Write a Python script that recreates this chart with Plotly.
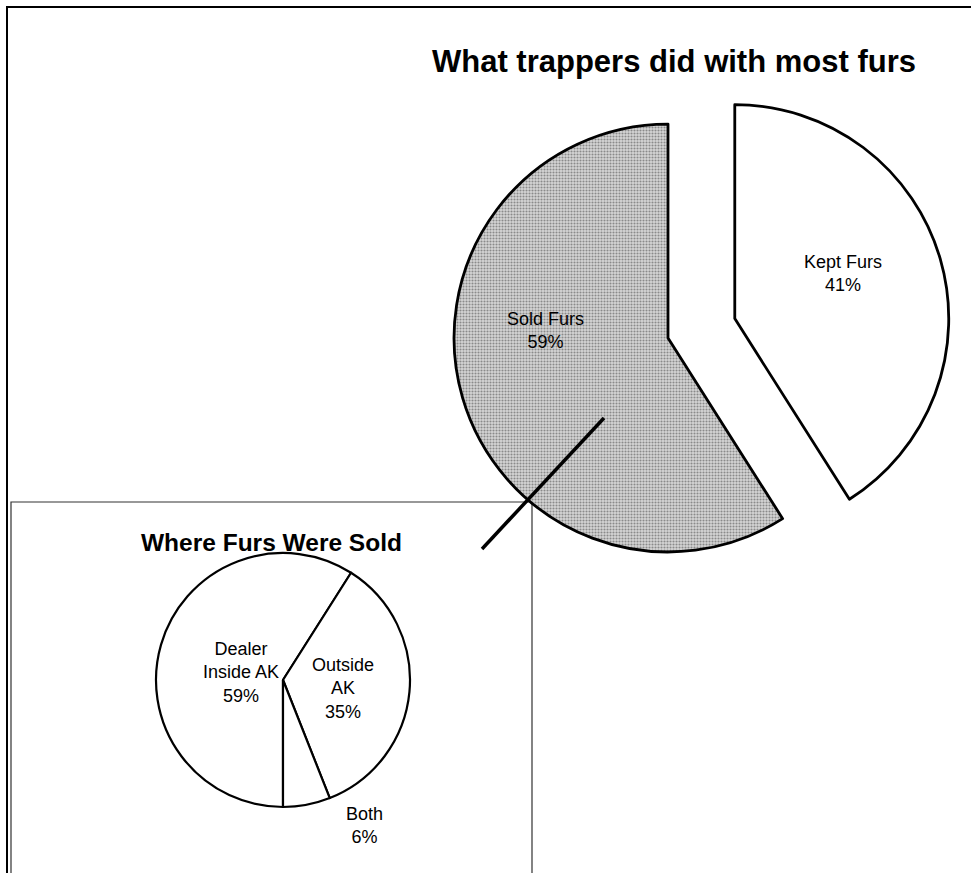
import plotly.graph_objects as go

W, H = 971, 873

# data
fur_labels = ['Kept Furs', 'Sold Furs']
fur_values = [41, 59]
fur_colors = ['white', '#c9c9c9']

sold_labels = ['Dealer<br>Inside AK', 'Outside<br>AK', 'Both']
sold_values = [59, 35, 6]

title_main = 'What trappers did with most furs'
title_inset = 'Where Furs Were Sold'

FONT = 'Liberation Sans, Arial, Helvetica, sans-serif'


def px(x):
    return x / W


def py(y):
    return 1 - y / H


fig = go.Figure()

fig.add_trace(go.Pie(
    labels=fur_labels,
    values=fur_values,
    sort=False,
    direction='clockwise',
    rotation=0,
    pull=[0.325, 0],
    textinfo='none',
    hoverinfo='label+percent',
    showlegend=False,
    marker=dict(
        colors=fur_colors,
        line=dict(color='black', width=2.8),
        pattern=dict(shape=['', '.'], size=3, solidity=0.4,
                     fgcolor='#8a8a8a', bgcolor='#d6d6d6', fillmode='replace'),
    ),
    domain=dict(x=[px(384.5), px(951.5)], y=[py(621.5), py(54.5)]),
))

fig.add_trace(go.Pie(
    labels=sold_labels,
    values=sold_values,
    sort=False,
    direction='clockwise',
    rotation=180,
    textinfo='none',
    hoverinfo='label+percent',
    showlegend=False,
    marker=dict(colors=['white'] * 3, line=dict(color='black', width=2.2)),
    domain=dict(x=[px(156), px(410)], y=[py(807), py(553)]),
))

# slice labels
big_pos = [(843, 273), (545, 330)]
small_pos = [(241, 672), (343, 688), (364, 825)]
annotations = []
for (lab, val), (x, y) in zip(zip(fur_labels, fur_values), big_pos):
    annotations.append(dict(x=px(x), y=py(y), text='%s<br>%d%%' % (lab, val)))
for (lab, val), (x, y) in zip(zip(sold_labels, sold_values), small_pos):
    annotations.append(dict(x=px(x), y=py(y), text='%s<br>%d%%' % (lab, val)))
for a in annotations:
    a.update(font=dict(family=FONT, size=18, color='black'))

annotations.append(dict(x=px(674), y=py(62), text='<b>%s</b>' % title_main,
                        font=dict(family=FONT, size=31, color='black')))
annotations.append(dict(x=px(271), y=py(542), text='<b>%s</b>' % title_inset,
                        font=dict(family=FONT, size=24.5, color='black')))
for a in annotations:
    a.update(xref='paper', yref='paper', showarrow=False,
             xanchor='center', yanchor='middle')

shapes = [
    # outer frame
    dict(type='rect', x0=px(7), x1=px(990), y0=py(900), y1=py(7),
         line=dict(color='black', width=2), layer='below'),
    # inset box
    dict(type='rect', x0=px(11), x1=px(532), y0=py(900), y1=py(502),
         line=dict(color='#333', width=1.2), fillcolor='white', layer='below'),
    # connector
    dict(type='line', x0=px(604), y0=py(418), x1=px(482), y1=py(549),
         line=dict(color='black', width=3.5)),
]

fig.update_layout(
    width=W,
    height=H,
    margin=dict(l=0, r=0, t=0, b=0),
    paper_bgcolor='white',
    plot_bgcolor='white',
    annotations=annotations,
    shapes=shapes,
)

fig.write_html('out.html', config=dict(displayModeBar=False),
               post_script="document.body.style.margin = '0';")
